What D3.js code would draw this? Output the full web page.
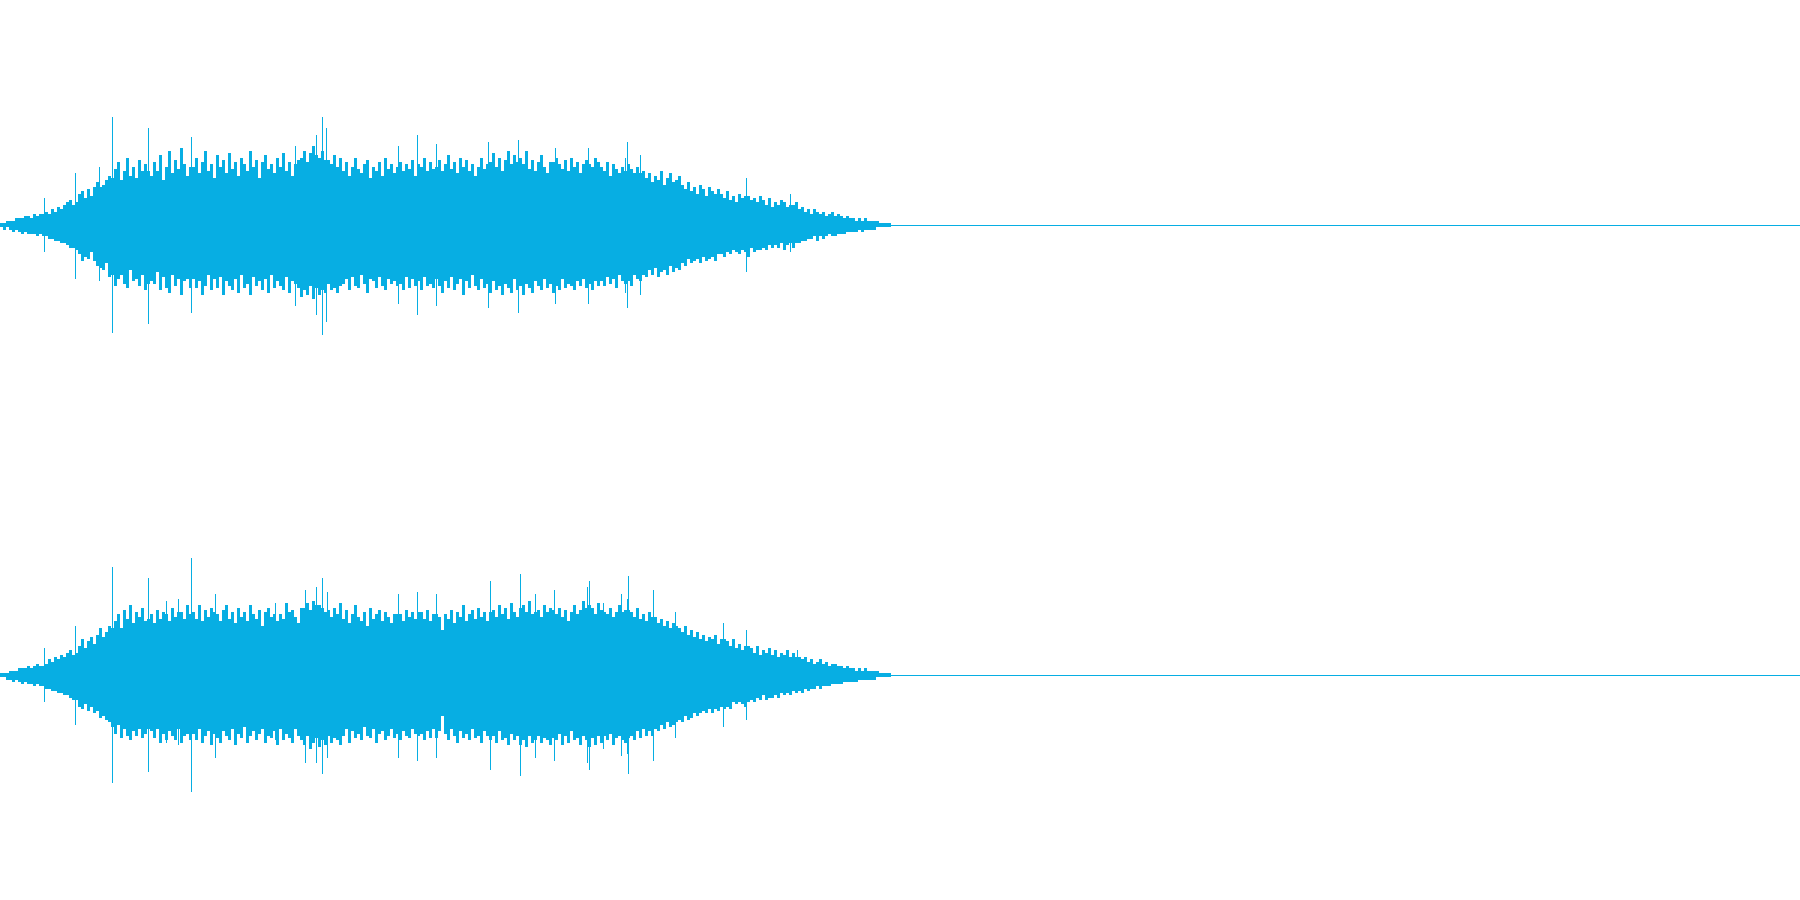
<!DOCTYPE html>
<html>
<head>
<meta charset="utf-8">
<script src="https://cdn.jsdelivr.net/npm/d3@7"></script>
<style>
  html, body { margin: 0; padding: 0; background: #ffffff; }
  svg { display: block; }
</style>
</head>
<body>
<svg id="chart" width="1800" height="900"></svg>
<script>
// Waveform. Amplitudes are percent of full scale.
// Body: per-bucket max (positive) and min (negative, stored as magnitude).
// Spikes: isolated single-frame transients (frame, up, down).
const channels = ["Left", "Right"];
const totalFrames = 1800;
const framesPerBucket = 3;

const ch1Top = [
  1,1,2,2,2,3,3,3,4,4,3,5,4,5,5,
  6,5,7,6,8,7,9,10,11,9,
  10,
  14,15,12,16,13,17,
  19,17,
  18,20,22,
  21,
  25,28,20,24,30,22,26,21,29,24,27,
  24,
  22,28,24,31,20,26,33,23,29,25,34,27,22,
  26,
  26,30,23,28,33,24,27,21,31,26,29,23,32,25,28,22,30,27,24,33,26,29,21,28,31,25,27,23,30,26,32,24,28,22,27,29,
  30,33,28,32,35,31,30,33,29,29,27,31,26,30,
  24,28,22,26,30,25,23,27,29,21,26,24,28,22,30,25,27,
  23,26,
  28,24,27,25,29,22,
  27,
  26,30,24,28,25,
  26,
  29,24,27,31,25,28,23,30,26,29,24,27,22,26,30,25,
  27,
  28,32,26,30,24,29,33,27,31,
  28,
  30,27,33,25,29,24,28,31,26,23,28,
  28,30,
  27,25,29,24,30,26,28,23,27,
  29,27,
  26,30,28,
  26,24,28,22,27,25,23,26,
  24,27,
  25,23,26,
  23,
  24,21,23,19,22,20,24,18,21,23,19,20,22,
  18,16,19,15,17,14,18,16,13,17,15,14,16,
  14,12,15,11,13,10,14,12,13,13,11,12,10,13,
  11,9,12,8,10,9,11,10,8,9,9,10,7,
  8,6,7,5,7,6,5,6,4,5,6,4,5,
  4,3,4,3,3,2,3,2,3,2,2,2,2,1,
  1,1,1
];
const ch1Bottom = [
  1,2,1,2,3,2,3,4,3,4,4,4,5,4,5,
  5,6,6,7,7,8,8,9,10,10,
  11,
  13,16,14,15,12,16,
  18,19,
  20,17,23,
  22,
  27,24,22,26,28,20,25,24,27,22,29,
  26,
  25,26,21,29,23,28,30,22,27,24,31,25,24,
  28,
  24,28,25,31,27,22,29,24,28,23,31,25,27,29,24,30,22,28,26,31,23,27,25,29,24,30,22,28,25,27,29,23,30,25,26,28,
  32,29,31,27,33,28,31,29,30,26,29,28,30,27,
  26,24,29,23,27,28,22,26,30,24,25,28,23,27,29,24,26,
  25,27,
  26,29,23,28,24,27,
  25,
  29,23,27,26,28,
  24,
  27,30,25,28,23,29,26,24,31,25,28,22,27,29,24,28,
  26,
  30,25,29,27,31,26,28,30,24,
  29,
  27,31,26,28,30,25,27,29,24,28,26,
  30,27,
  29,24,28,26,27,29,25,27,24,
  28,26,
  29,25,27,
  25,27,23,26,24,28,22,25,
  26,25,
  27,22,24,
  25,
  22,23,20,22,19,23,21,20,22,18,21,19,20,
  17,18,15,17,16,15,17,14,16,15,14,16,13,
  13,14,12,13,11,12,13,11,12,14,10,12,11,11,
  10,11,9,10,9,10,8,11,9,8,10,8,8,
  7,7,6,6,5,7,5,6,5,4,5,5,4,
  4,4,3,3,3,3,2,3,2,2,2,2,1,1,
  1,1,1
];
const ch1SpikeFrame = [44, 75, 99, 112, 148, 191, 295, 316, 322, 326, 398, 417, 436, 488, 518, 555, 588, 625, 627, 640, 746, 790];
const ch1SpikeUp    = [12, 23, 26, 48, 43, 39, 35, 40, 48, 43, 35, 40, 36, 37, 38, 34, 34, 30, 37, 31, 21, 14];
const ch1SpikeDown  = [12, 24, 25, 48, 44, 39, 36, 40, 49, 43, 35, 40, 36, 37, 39, 35, 35, 30, 37, 31, 21, 12];

const ch2Top = [
  1,1,1,2,2,2,3,3,3,4,3,4,5,4,4,
  5,7,6,8,7,9,8,10,11,9,
  10,
  13,16,12,15,17,14,18,21,17,19,22,
  21,
  24,27,21,29,25,31,23,28,26,30,24,
  25,
  27,23,29,25,28,27,24,30,26,28,28,25,31,
  27,
  28,25,31,24,29,26,30,28,27,24,29,31,25,28,23,30,26,28,24,31,27,25,29,22,28,30,26,27,24,27,25,32,28,29,26,23,
  30,30,32,29,33,31,31,30,28,29,26,30,27,32,
  25,29,23,27,31,26,24,28,22,30,25,27,29,24,28,26,23,27,
  27,
  27,24,29,26,28,25,
  28,
  28,25,29,24,27,
  27,
  26,20,
  27,25,29,23,28,26,31,24,27,29,25,30,26,28,24,
  28,
  29,26,31,27,30,25,32,28,26,
  30,
  31,28,33,27,
  28,
  29,26,31,28,30,
  29,
  27,30,26,29,24,28,31,27,29,33,
  30,31,
  30,27,32,
  29,28,27,30,26,28,31,
  28,29,29,
  28,26,30,25,27,24,28,
  26,
  26,23,25,22,24,21,23,
  22,
  21,19,22,18,20,17,19,16,18,15,17,16,18,14,16,
  16,
  15,13,16,12,14,11,
  13,
  13,
  12,10,13,9,11,10,12,9,11,8,10,9,11,8,10,8,
  8,7,8,6,7,5,6,7,5,6,4,5,5,4,
  4,3,4,3,3,2,3,2,3,2,2,2,2,1,1,1,1
];
const ch2Bottom = [
  1,1,2,2,3,2,3,4,3,4,4,5,4,5,5,
  6,6,7,7,8,8,9,9,10,11,
  11,
  14,15,13,16,14,17,16,19,18,20,21,
  23,
  26,22,28,24,27,29,25,27,24,28,26,
  24,
  25,28,24,30,26,29,25,27,29,24,30,27,26,
  29,
  26,29,24,30,27,25,31,26,28,30,25,27,29,24,31,26,28,23,30,27,25,29,26,24,30,27,28,25,31,24,29,26,28,30,24,27,
  29,31,27,33,30,28,32,29,31,27,30,28,29,31,
  27,24,30,25,28,26,29,23,27,28,24,30,26,25,29,27,24,28,
  26,
  29,25,27,28,24,26,
  27,
  26,29,25,28,24,
  28,
  25,18,
  26,29,24,27,30,25,28,26,29,24,28,27,30,25,27,
  29,
  27,30,25,29,28,31,26,29,27,
  31,
  29,32,27,30,
  29,
  27,30,28,29,31,
  28,
  29,26,31,27,30,25,29,28,31,27,
  29,32,
  28,31,27,
  30,27,29,26,31,28,27,
  29,30,28,
  27,29,25,28,24,27,25,
  27,
  24,25,22,24,21,23,22,
  21,
  20,21,18,20,19,17,18,17,16,17,15,17,15,16,14,
  15,
  14,15,12,13,12,13,
  14,
  12,
  11,12,10,11,9,11,10,10,9,10,8,9,8,9,7,8,
  7,8,6,7,6,6,5,6,5,5,5,4,4,4,
  4,3,3,3,3,3,2,2,2,2,2,2,1,1,1,1,1
];
const ch2SpikeFrame = [44, 75, 112, 148, 166, 178, 191, 215, 275, 305, 316, 322, 327, 398, 417, 436, 490, 520, 535, 554, 587, 589, 603, 621, 627, 628, 653, 675, 723, 746, 797];
const ch2SpikeUp    = [12, 22, 48, 43, 33, 34, 52, 36, 32, 38, 39, 43, 37, 36, 37, 36, 42, 45, 36, 38, 39, 42, 32, 36, 34, 44, 38, 28, 23, 20, 11];
const ch2SpikeDown  = [12, 22, 48, 43, 30, 31, 52, 37, 29, 39, 39, 44, 37, 37, 38, 37, 42, 45, 37, 38, 39, 42, 33, 36, 35, 44, 38, 28, 23, 20, 8];

const channelData = [
  { top: ch1Top, bottom: ch1Bottom, sf: ch1SpikeFrame, su: ch1SpikeUp, sd: ch1SpikeDown },
  { top: ch2Top, bottom: ch2Bottom, sf: ch2SpikeFrame, su: ch2SpikeUp, sd: ch2SpikeDown }
];

const W = 1800, H = 900;
const color = "#07aee3";
const svg = d3.select("#chart");

const x = d3.scaleLinear().domain([0, totalFrames]).range([0, W]);
const band = d3.scaleBand().domain(channels).range([0, H]);

channels.forEach((name, ci) => {
  const cd = channelData[ci];
  const buckets = cd.top.map((t, i) => ({ i, t, b: cd.bottom[i] }));
  const spikes = cd.sf.map((f, i) => ({ f, u: cd.su[i], d: cd.sd[i] }));
  const top = band(name), h = band.bandwidth();
  const y = d3.scaleLinear().domain([-100, 100]).range([top + h, top]);
  const g = svg.append("g").attr("class", "channel").attr("shape-rendering", "crispEdges");
  const endFrame = buckets.length * framesPerBucket;

  // silent remainder: centre line
  g.append("rect")
    .attr("x", x(endFrame))
    .attr("y", Math.floor(y(0)))
    .attr("width", x(totalFrames) - x(endFrame))
    .attr("height", 1)
    .attr("fill", color);

  g.selectAll("rect.bucket")
    .data(buckets)
    .join("rect")
    .attr("class", "bucket")
    .attr("x", d => x(d.i * framesPerBucket))
    .attr("width", d => x((d.i + 1) * framesPerBucket) - x(d.i * framesPerBucket))
    .attr("y", d => Math.round(y(d.t)))
    .attr("height", d => Math.max(1, Math.round(y(-d.b)) - Math.round(y(d.t))))
    .attr("fill", color);

  g.selectAll("rect.spike")
    .data(spikes)
    .join("rect")
    .attr("class", "spike")
    .attr("x", d => x(d.f))
    .attr("width", d => x(d.f + 1) - x(d.f))
    .attr("y", d => Math.round(y(d.u)))
    .attr("height", d => Math.round(y(-d.d)) - Math.round(y(d.u)))
    .attr("fill", color);
});
</script>
</body>
</html>
